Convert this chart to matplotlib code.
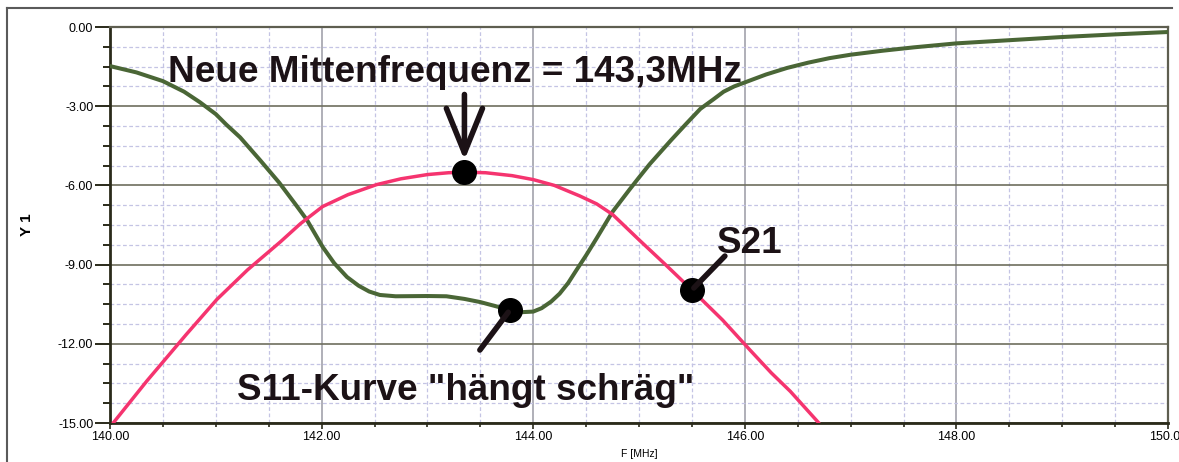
import matplotlib
matplotlib.use("Agg")
import matplotlib.pyplot as plt
from matplotlib.lines import Line2D
from matplotlib.ticker import MultipleLocator, FormatStrFormatter

plt.rcParams['font.family'] = ['Liberation Sans', 'DejaVu Sans']
plt.rcParams['axes.unicode_minus'] = False

# S11 trace (dB over MHz)
s11_f = [140.0, 140.25, 140.5, 140.7, 140.85, 141.0, 141.1, 141.23, 141.42, 141.6,
         141.75, 141.86, 142.01, 142.12, 142.24, 142.35, 142.45, 142.55, 142.7, 143.0,
         143.18, 143.35, 143.5, 143.65, 143.78, 143.9, 144.0, 144.08, 144.17, 144.25,
         144.33, 144.41, 144.5, 144.6, 144.75, 144.91, 145.0, 145.1, 145.2, 145.3,
         145.45, 145.58, 145.7, 145.8, 145.9, 146.0, 146.2, 146.4, 146.6, 146.8,
         147.0, 147.3, 147.6, 148.0, 148.5, 149.0, 149.5, 150.0]
s11_db = [-1.48, -1.72, -2.05, -2.45, -2.85, -3.3, -3.7, -4.18, -5.05, -5.9,
          -6.7, -7.3, -8.33, -8.95, -9.47, -9.8, -10.02, -10.15, -10.2, -10.19,
          -10.2, -10.3, -10.42, -10.58, -10.72, -10.8, -10.78, -10.65, -10.4, -10.1,
          -9.7, -9.2, -8.65, -8.0, -7.0, -6.16, -5.7, -5.2, -4.75, -4.3,
          -3.65, -3.1, -2.75, -2.45, -2.25, -2.1, -1.8, -1.55, -1.35, -1.18,
          -1.05, -0.9, -0.77, -0.62, -0.5, -0.38, -0.28, -0.19]

# S21 trace
s21_f = [140.03, 140.35, 140.72, 141.01, 141.3, 141.61, 141.8, 142.01, 142.25, 142.52,
         142.75, 143.0, 143.2, 143.35, 143.55, 143.8, 144.0, 144.2, 144.44, 144.6,
         144.75, 145.0, 145.25, 145.5, 145.79, 146.05, 146.25, 146.43, 146.7]
s21_db = [-15.0, -13.4, -11.65, -10.32, -9.2, -8.14, -7.45, -6.8, -6.35, -5.97,
          -5.75, -5.59, -5.52, -5.5, -5.52, -5.63, -5.78, -6.0, -6.4, -6.7,
          -7.1, -8.06, -9.0, -9.96, -11.1, -12.24, -13.1, -13.8, -15.0]

f_center = 143.35
s11_mark = (143.78, -10.72)
s21_mark = (145.5, -9.96)

green = '#4a6636'
pink = '#f5346f'
ink = '#1c1216'

fig = plt.figure(figsize=(11.79, 4.62), dpi=100)
ax = fig.add_axes([110 / 1179, 39 / 462, 1058 / 1179, 396 / 462])

ax.plot(s11_f, s11_db, color=green, lw=2.9, solid_capstyle='round',
        solid_joinstyle='round', zorder=3)
ax.plot(s21_f, s21_db, color=pink, lw=2.5, solid_capstyle='round',
        solid_joinstyle='round', zorder=3)

ax.set_xlim(140, 150)
ax.set_ylim(-15, 0)
ax.xaxis.set_major_locator(MultipleLocator(2))
ax.xaxis.set_minor_locator(MultipleLocator(0.5))
ax.yaxis.set_major_locator(MultipleLocator(3))
ax.yaxis.set_minor_locator(MultipleLocator(0.75))
ax.xaxis.set_major_formatter(FormatStrFormatter('%.2f'))
ax.yaxis.set_major_formatter(FormatStrFormatter('%.2f'))

ax.grid(which='minor', color='#c4c4e4', lw=0.9, ls=(0, (3, 2)))
ax.grid(which='major', axis='x', color='#9a9aa4', lw=1.1)
ax.grid(which='major', axis='y', color='#6e6e5e', lw=1.2)
ax.set_axisbelow(True)

ax.tick_params(axis='y', which='major', length=11, width=1.4, color='#2a2a1a',
               labelsize=9, pad=1)
ax.tick_params(axis='y', which='minor', length=5, width=1.4, color='#2a2a1a')
ax.tick_params(axis='x', which='major', length=4, width=1.2, color='#2a2a1a',
               labelsize=9, pad=2)
ax.tick_params(axis='x', which='minor', length=3, width=1.2, color='#2a2a1a')

for side in ('left', 'bottom'):
    ax.spines[side].set_color('#2a2a1a')
    ax.spines[side].set_linewidth(2)
for side in ('top', 'right'):
    ax.spines[side].set_color('#5e5e50')
    ax.spines[side].set_linewidth(1.6)

ax.set_xlabel('F [MHz]', fontsize=7.5, labelpad=4)
ax.set_ylabel('Y 1', fontsize=11, fontweight='bold')
ax.yaxis.set_label_coords(-0.072, 0.5)

# markers and call-outs
dot = dict(marker='o', ms=17, color='black', zorder=5)
s21_center = s21_db[s21_f.index(f_center)]
ax.plot([f_center], [s21_center], **dot)
ax.plot([s11_mark[0]], [s11_mark[1]], **dot)
ax.plot([s21_mark[0]], [s21_mark[1]], **dot)

ax.annotate('', xy=(f_center, s21_center + 0.35), xytext=(f_center, -2.45),
            arrowprops=dict(arrowstyle='->, head_length=1.6, head_width=0.65',
                            lw=4, color=ink, mutation_scale=20), zorder=6)
ax.text(140.55, -1.72, 'Neue Mittenfrequenz = 143,3MHz', fontsize=26.6,
        fontweight='bold', color=ink, va='center', ha='left', zorder=6)

ax.annotate('', xy=s11_mark, xytext=(143.48, -12.32),
            arrowprops=dict(arrowstyle='-', lw=4, color=ink), zorder=6)
ax.text(141.2, -13.75, 'S11-Kurve "hängt schräg"', fontsize=26.6,
        fontweight='bold', color=ink, va='center', ha='left', zorder=6)

ax.annotate('', xy=s21_mark, xytext=(145.83, -8.6),
            arrowprops=dict(arrowstyle='-', lw=4, color=ink), zorder=6)
ax.text(145.74, -8.2, 'S21', fontsize=26.6, fontweight='bold', color=ink,
        va='center', ha='left', zorder=6)

# outer window frame: left and top edges only
x0, y0 = 7 / 1179, 1 - 8 / 462
fig.add_artist(Line2D([x0, x0], [0, y0], transform=fig.transFigure,
                      color='#5a5a5a', lw=1.5))
fig.add_artist(Line2D([x0, 1172 / 1179], [y0, y0], transform=fig.transFigure,
                      color='#5a5a5a', lw=1.5))

fig.savefig('out.png', dpi=100)
